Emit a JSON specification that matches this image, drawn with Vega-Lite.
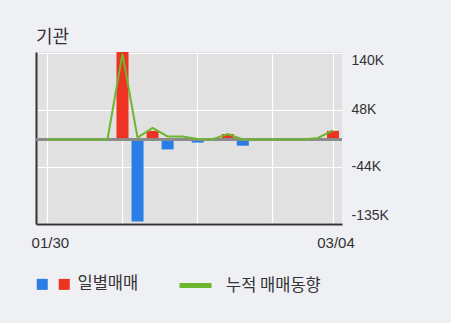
{
  "$schema": "https://vega.github.io/schema/vega-lite/v6.json",
  "width": 306,
  "height": 172,
  "autosize": {"type": "none"},
  "padding": {"left": 36, "top": 52, "right": 109, "bottom": 99},
  "background": "#eff0f4",
  "title": {"text": "기관", "anchor": "start", "frame": "group", "font": "Noto Sans CJK KR", "fontSize": 18, "fontWeight": "normal", "color": "#333333", "offset": 5},
  "config": {
    "view": {"fill": "#e1e1e1", "stroke": null},
    "axis": {"labelFont": "Liberation Sans", "labelFontSize": 14, "labelColor": "#333333", "ticks": false, "title": null},
    "legend": {"labelFont": "Noto Sans CJK KR", "labelFontSize": 16.5, "labelColor": "#333333", "padding": 0}
  },
  "data": {"values": [
    {"date": "01/30", "value": 0, "side": "매수", "cum": 0},
    {"date": "01/31", "value": 0, "side": "매수", "cum": 0},
    {"date": "02/01", "value": 0, "side": "매수", "cum": 0},
    {"date": "02/07", "value": 0, "side": "매수", "cum": 0},
    {"date": "02/08", "value": 0, "side": "매수", "cum": 0},
    {"date": "02/11", "value": 145000, "side": "매수", "cum": 139000},
    {"date": "02/12", "value": -133000, "side": "매도", "cum": 3000},
    {"date": "02/13", "value": 14000, "side": "매수", "cum": 19000},
    {"date": "02/14", "value": -16000, "side": "매도", "cum": 5000},
    {"date": "02/15", "value": 0, "side": "매수", "cum": 5000},
    {"date": "02/18", "value": -5000, "side": "매도", "cum": 1000},
    {"date": "02/19", "value": 0, "side": "매수", "cum": 500},
    {"date": "02/20", "value": 9000, "side": "매수", "cum": 9000},
    {"date": "02/21", "value": -10000, "side": "매도", "cum": 0},
    {"date": "02/22", "value": 0, "side": "매수", "cum": 0},
    {"date": "02/25", "value": 0, "side": "매수", "cum": 0},
    {"date": "02/26", "value": 0, "side": "매수", "cum": 0},
    {"date": "02/27", "value": 0, "side": "매수", "cum": 0},
    {"date": "02/28", "value": 2500, "side": "매수", "cum": 2500},
    {"date": "03/04", "value": 14000, "side": "매수", "cum": 15000}
  ]},
  "resolve": {"axis": {"y": "independent"}},
  "layer": [
    {
      "mark": {"type": "bar", "clip": true},
      "encoding": {
        "x": {"field": "date", "type": "ordinal", "sort": null,
          "scale": {"paddingInner": 0.2, "paddingOuter": 0.275, "align": 0.64},
          "axis": {"orient": "bottom", "values": ["01/30", "02/11", "02/18", "02/25", "03/04"],
            "labelExpr": "datum.value == '01/30' || datum.value == '03/04' ? datum.value : ''",
            "labelAngle": 0, "labelPadding": 11, "labelOffset": 3, "labelFontSize": 15,
            "grid": true, "gridColor": "#ffffff", "gridWidth": 1.2, "bandPosition": 0.5,
            "domain": true, "domainColor": "#333333", "domainWidth": 2}},
        "y": {"field": "value", "type": "quantitative",
          "scale": {"domain": [-137000, 142000], "nice": false, "zero": false},
          "axis": {"orient": "left", "values": [140000, 48000, -44000, -135000], "labels": false,
            "grid": true, "gridColor": "#ffffff", "gridWidth": 1.2,
            "domain": true, "domainColor": "#333333", "domainWidth": 2}},
        "color": {"field": "side", "type": "nominal",
          "scale": {"domain": ["매도", "매수"], "range": ["#2a7de6", "#ee3322"]},
          "legend": {"orient": "none", "legendX": -2, "legendY": 224, "direction": "horizontal", "title": null,
            "symbolType": "square", "symbolSize": 121, "symbolStrokeWidth": 0, "symbolOpacity": 1,
            "labelExpr": "datum.label == '매수' ? '일별매매' : ''",
            "labelOffset": 5, "columnPadding": -13}}
      }
    },
    {
      "mark": {"type": "rule", "color": "#8a8a8a", "strokeWidth": 1.5},
      "encoding": {"y": {"datum": 0, "type": "quantitative", "axis": null}}
    },
    {
      "mark": {"type": "line", "strokeWidth": 2, "clip": true},
      "encoding": {
        "x": {"field": "date", "type": "ordinal", "sort": null,
          "scale": {"paddingInner": 0.2, "paddingOuter": 0.275, "align": 0.64},
          "axis": {"orient": "bottom", "values": ["01/30", "02/11", "02/18", "02/25", "03/04"],
            "labelExpr": "datum.value == '01/30' || datum.value == '03/04' ? datum.value : ''",
            "labelAngle": 0, "labelPadding": 11, "labelOffset": 3, "labelFontSize": 15,
            "grid": true, "gridColor": "#ffffff", "gridWidth": 1.2, "bandPosition": 0.5,
            "domain": true, "domainColor": "#333333", "domainWidth": 2}},
        "y": {"field": "cum", "type": "quantitative",
          "axis": {"orient": "right", "values": [140000, 48000, -44000, -135000],
            "labelExpr": "(datum.value / 1000) + 'K'", "labelPadding": 9, "labelFlush": 10,
            "grid": false, "domain": false}},
        "stroke": {"datum": "누적 매매동향",
          "scale": {"range": ["#6cb630"]},
          "legend": {"orient": "none", "legendX": 141, "legendY": 215, "title": null,
            "symbolType": "stroke", "symbolSize": 1024, "symbolStrokeWidth": 5, "labelOffset": 12}}
      }
    }
  ]
}
